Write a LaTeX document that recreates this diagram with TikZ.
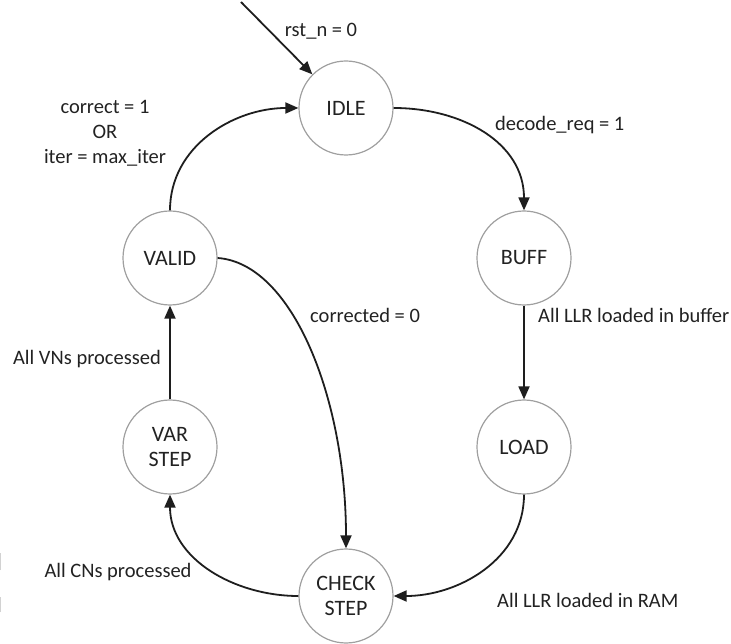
\documentclass[tikz,border=0pt]{standalone}
\usepackage{fontspec}
\setmainfont{Carlito}
\usetikzlibrary{arrows.meta}

\definecolor{ringgray}{HTML}{A0A0A0}
\definecolor{wire}{HTML}{1E1E1E}
\definecolor{ink}{HTML}{222222}

\tikzset{
  state/.style={circle, draw=ringgray, line width=1.2pt, fill=white,
    minimum size=94pt, inner sep=0pt, align=center, text=ink,
    font=\fontsize{22}{25}\selectfont},
  trans/.style={draw=wire, line width=1.8pt,
    -{Triangle[length=13pt,width=11pt]}},
  cond/.style={text=ink, align=center, inner sep=0pt,
    font=\fontsize{20.5}{25}\selectfont},
}

\begin{document}
\begin{tikzpicture}[x=1pt,y=1pt]
  \useasboundingbox (0,0) rectangle (731,643);

  % states of the decoder controller
  \node[state] (idle)  at (346,535) {IDLE};
  \node[state] (valid) at (170,385) {VALID};
  \node[state] (buff)  at (524,385) {BUFF};
  \node[state] (var)   at (170,196) {VAR\\STEP};
  \node[state] (load)  at (524,196) {LOAD};
  \node[state] (check) at (346,47)  {CHECK\\STEP};

  % reset entry
  \coordinate (rst) at (241,641);
  \draw[trans] (rst) -- (idle.135);
  \node[cond] (rstlbl) at (321,612) {rst\_n = 0};

  % transitions
  \draw[trans] (idle.east) to[out=0,in=90,looseness=1.05] (buff.north);
  \node[cond, anchor=west] (reqlbl) at (495,518) {decode\_req = 1};

  \draw[trans] (buff.south) -- (load.north);
  \node[cond, anchor=west] (buflbl) at (538,328) {All LLR loaded in buffer};

  \draw[trans] (load.south) to[out=-90,in=0] (check.east);
  \node[cond, anchor=west] (ramlbl) at (497,43) {All LLR loaded in RAM};

  \draw[trans] (check.west) to[out=180,in=-90] (var.south);
  \node[cond] (cnlbl) at (118,71) {All CNs processed};

  \draw[trans] (var.north) -- (valid.south);
  \node[cond, anchor=east] (vnlbl) at (161,284) {All VNs processed};

  \draw[trans] (valid.north) to[out=90,in=180] (idle.west);
  \node[cond] (donelbl) at (105,510) {correct = 1\\OR\\iter = max\_iter};

  \draw[trans] (valid.east) to[out=-4,in=90,out distance=75pt,in distance=150pt] (check.north);
  \node[cond, anchor=west] (fixlbl) at (310,328) {corrected = 0};

  % faint marks on the left border
  \draw[gray!35, line width=1pt] (0.5,73) -- (0.5,90);
  \draw[gray!35, line width=1pt] (0.5,31) -- (0.5,46);
\end{tikzpicture}
\end{document}
